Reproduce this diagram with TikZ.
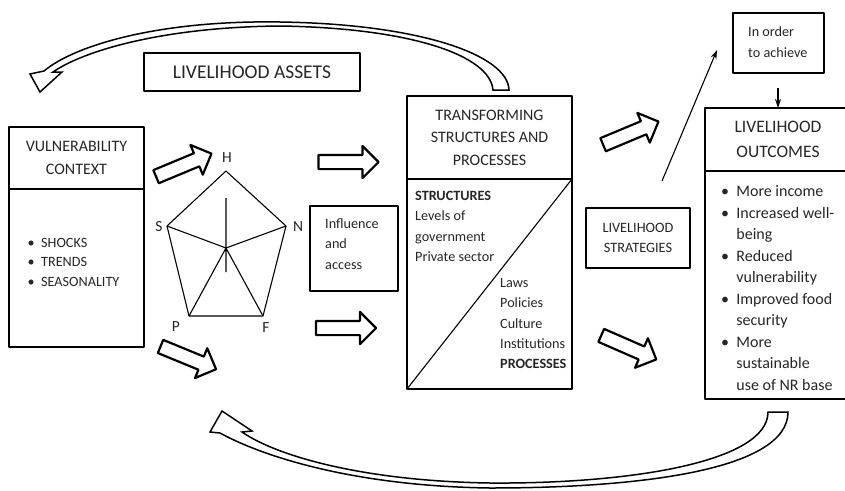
\documentclass[tikz,border=0pt]{standalone}
\usepackage{fontspec}
\setmainfont{Carlito}
\usetikzlibrary{shapes.arrows,arrows.meta}
\newcommand{\bul}{\makebox[0.95em][l]{\textbullet}}
\newcommand{\nobul}{\makebox[0.95em][l]{}}
\tikzset{
  box/.style={draw, line width=2.4pt, inner sep=0pt, outer sep=0pt},
  blockarrow/.style={single arrow, draw, line width=2.2pt, inner xsep=0pt, inner ysep=6pt,
    single arrow head extend=9pt, minimum height=60pt},
  curvedarrow/.style={draw, fill=white, line width=1.5pt, line join=miter},
  thinline/.style={line width=1.1pt},
  headtext/.style={font=\fontsize{16}{22.5}\selectfont, align=center},
  smalltext/.style={font=\fontsize{14.2}{20.3}\selectfont, inner sep=0pt, align=left},
  listtext/.style={font=\fontsize{14.2}{19.5}\selectfont, inner sep=0pt, align=left},
  letter/.style={font=\fontsize{15.5}{18}\selectfont, inner sep=0pt}
}
\begin{document}
\begin{tikzpicture}[x=1pt, y=-1pt, line join=round, >={Stealth[length=9pt,width=6pt]}, text=black!85]
\useasboundingbox (0,0) rectangle (845,490);

% curved arrows
\draw[curvedarrow] (509,90) .. controls (508,55) and (420,24) .. (280,22)
  .. controls (160,20) and (75,45) .. (44,71) -- (30,74) -- (40,92) -- (62,72) -- (53,72)
  .. controls (85,50) and (165,27) .. (280,26) .. controls (410,28) and (490,55) .. (493,90) -- cycle;
\draw[curvedarrow] (788,412) .. controls (788,470) and (640,488) .. (490,488)
  .. controls (350,486) and (260,455) .. (220,433) -- (210,432) -- (222,411) -- (252,431) -- (242,432)
  .. controls (275,455) and (360,481) .. (490,483) .. controls (630,484) and (768,462) .. (768,412) -- cycle;

\node[box, minimum width=216, minimum height=38, font=\fontsize{19.5}{23}\selectfont] (assets) at (252,72) {LIVELIHOOD ASSETS};

% vulnerability
\node[box, headtext, minimum width=135, minimum height=62] (vulhead) at (76.5,158) {VULNERABILITY\\CONTEXT};
\node[box, minimum width=135, minimum height=158, anchor=north] (vulbody) at (vulhead.south) {};
\node[listtext, anchor=west] (shocks) at (27.5,262) {\bul SHOCKS\\\bul TRENDS\\\bul SEASONALITY};

% pentagon
\coordinate (H) at (226,171);
\coordinate (N) at (286,226);
\coordinate (F) at (263,316);
\coordinate (P) at (189,316);
\coordinate (S) at (167,226);
\coordinate (O) at (226,248);
\draw[thinline] (H) -- (N) -- (F) -- (P) -- (S) -- cycle;
\draw[thinline] (S) -- (O) -- (N) (P) -- (O) -- (F) (226,198) -- (226,272);
\node[letter] (lH) at (227,158) {H};
\node[letter] (lS) at (159,227) {S};
\node[letter] (lN) at (298,227) {N};
\node[letter] (lP) at (176,327) {P};
\node[letter] (lF) at (266,328) {F};

\node[box, minimum width=88, minimum height=85] (influence) at (354,248.5) {};
\node[smalltext, anchor=west] (inftext) at (325,244) {Influence\\and\\access};

% transforming
\node[box, headtext, minimum width=165, minimum height=83] (trhead) at (489.5,137.5) {TRANSFORMING\\STRUCTURES AND\\PROCESSES};
\node[box, minimum width=165, minimum height=210, anchor=north] (trbody) at (trhead.south) {};
\draw[thinline] (trbody.south west) -- (trbody.north east);
\node[smalltext, anchor=west] (structures) at (415,226.5) {\textbf{STRUCTURES}\\Levels of\\government\\Private sector};
\node[smalltext, anchor=west] (processes) at (500,323.5) {Laws\\Policies\\Culture\\Institutions\\\textbf{PROCESSES}};

\node[box, minimum width=104, minimum height=60, font=\fontsize{14.3}{20}\selectfont, align=center] (strategies) at (638,238) {LIVELIHOOD\\STRATEGIES};

\node[box, minimum width=91, minimum height=60] (achieve) at (778.5,43) {};
\node[smalltext, anchor=west] (achtext) at (748,42) {In order\\to achieve};

% outcomes
\node[box, minimum width=146, minimum height=63, font=\fontsize{17.5}{25}\selectfont, align=center] (outhead) at (778,139.5) {LIVELIHOOD\\OUTCOMES};
\node[box, minimum width=146, minimum height=228, anchor=north] (outbody) at (outhead.south) {};
\node[listtext, font=\fontsize{16}{21.5}\selectfont, anchor=west] (outlist) at (721,288) {\bul More income\\\bul Increased well-\\\nobul being\\\bul Reduced\\\nobul vulnerability\\\bul Improved food\\\nobul security\\\bul More\\\nobul sustainable\\\nobul use of NR base};

% block arrows
\node[blockarrow, rotate=22.6] (vtoh) at (180.5,166.5) {};
\node[blockarrow, rotate=-22.3] (vtop) at (185,356.5) {};
\node[blockarrow] (ptotr) at (345,162) {};
\node[blockarrow] (ftotr) at (342.5,328) {};
\node[blockarrow, rotate=22.7] (trup) at (627.5,134.5) {};
\node[blockarrow, rotate=-23.6] (trdown) at (625.5,346) {};

% thin arrows
\coordinate (stratup) at (662,181);
\coordinate (achleft) at (717,50);
\coordinate (achdown) at (778,88);
\draw[thinline, ->] (stratup) -- (achleft);
\draw[thinline, ->] (achdown) -- (outhead.north);
\end{tikzpicture}
\end{document}
